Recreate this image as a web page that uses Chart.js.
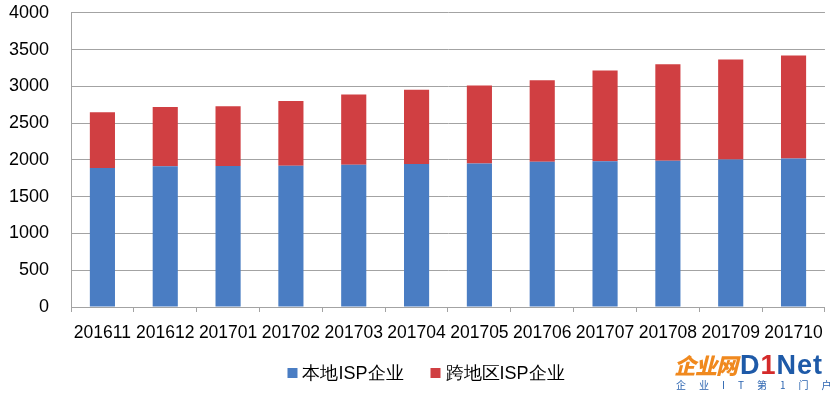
<!DOCTYPE html>
<html>
<head>
<meta charset="utf-8">
<script src="https://cdn.jsdelivr.net/npm/chart.js@4"></script>
<style>
  html, body { margin: 0; padding: 0; background: #fff; overflow: hidden; }
  #wrap { position: relative; width: 834px; height: 395px; overflow: hidden; }
  #c { position: absolute; left: 0; top: -20px; }
  #logo { position: absolute; left: 674px; top: 352px; font-family: "Noto Sans CJK SC", sans-serif; line-height: 1; white-space: nowrap; }
  #logo .cn { color: #f0891e; font-weight: 900; font-size: 22px; letter-spacing: -1px; font-style: italic; }
  #logo .en { color: #1e5aa8; font-weight: 900; font-size: 27px; font-family: "Liberation Sans", sans-serif; margin-left: 3px; letter-spacing: 1px; }
  #logo .en b { color: #d42a2a; }
  #logo .sub { position: absolute; left: 2px; top: 28px; white-space: nowrap; color: #2b64b0; font-size: 10px; letter-spacing: 13px; }
</style>
</head>
<body>
<div id="wrap">
  <canvas id="c" width="834" height="415"></canvas>
  <div id="logo"><span class="cn">企业网</span><span class="en">D<b>1</b>Net</span><div class="sub">企业IT第1门户</div></div>
</div>
<script>
const categories = ['201611','201612','201701','201702','201703','201704','201705','201706','201707','201708','201709','201710'];
const localISP = [1890, 1915, 1918, 1920, 1935, 1945, 1952, 1975, 1980, 1990, 2005, 2018];
const crossRegionISP = [758, 805, 812, 880, 953, 1008, 1060, 1109, 1235, 1310, 1360, 1400];
const seriesNames = ['本地ISP企业', '跨地区ISP企业'];
const yTicks = [0, 500, 1000, 1500, 2000, 2500, 3000, 3500, 4000];

const gridColor = '#a3a3a3';
const font = 'Liberation Sans';

const customLegend = {
  id: 'customLegend',
  afterDraw(chart) {
    const ctx = chart.ctx;
    ctx.save();
    ctx.font = '18px "Liberation Sans"';
    ctx.textBaseline = 'middle';
    const items = chart.data.datasets.map(d => ({ text: d.label, color: d.backgroundColor, w: ctx.measureText(d.label).width }));
    const box = 10, gapText = 5, gapItem = 27;
    let total = 0;
    items.forEach((it, i) => { total += box + gapText + it.w + (i < items.length - 1 ? gapItem : 0); });
    let x = 426 - total / 2;
    const cy = chart.chartArea.bottom + 66;
    items.forEach(it => {
      ctx.fillStyle = it.color;
      ctx.fillRect(x, cy - 5, box, box);
      x += box + gapText;
      ctx.fillStyle = '#000';
      ctx.fillText(it.text, x, cy + 1);
      x += it.w + gapItem;
    });
    ctx.restore();
  }
};

new Chart(document.getElementById('c'), {
  type: 'bar',
  data: {
    labels: categories,
    datasets: [
      { label: seriesNames[0], data: localISP, backgroundColor: '#4a7dc3', barPercentage: 0.4, categoryPercentage: 1 },
      { label: seriesNames[1], data: crossRegionISP, backgroundColor: '#d03f42', barPercentage: 0.4, categoryPercentage: 1 }
    ]
  },
  plugins: [customLegend],
  options: {
    responsive: false,
    animation: false,
    devicePixelRatio: 1,
    layout: { padding: { left: 0, right: 6, top: 2, bottom: 48 } },
    plugins: {
      tooltip: { enabled: false },
      legend: { display: false }
    },
    scales: {
      x: {
        stacked: true,
        grid: { display: true, drawOnChartArea: false, drawTicks: true, tickLength: 5, color: gridColor, offset: true },
        border: { display: true, color: gridColor },
        ticks: { color: '#000', font: { family: font, size: 17.5 }, padding: 11, maxRotation: 0, autoSkip: false },
        afterFit(s) { s.height = 40; }
      },
      y: {
        stacked: true,
        min: 0, max: 4000,
        afterBuildTicks(s) { s.ticks = yTicks.map(v => ({ value: v })); },
        grid: { color: gridColor, drawTicks: false },
        border: { display: true, color: gridColor },
        ticks: { color: '#000', font: { family: font, size: 18 }, padding: 22, callback: v => String(v) },
        afterFit(s) { s.width = 71; }
      }
    }
  }
});
</script>
</body>
</html>
